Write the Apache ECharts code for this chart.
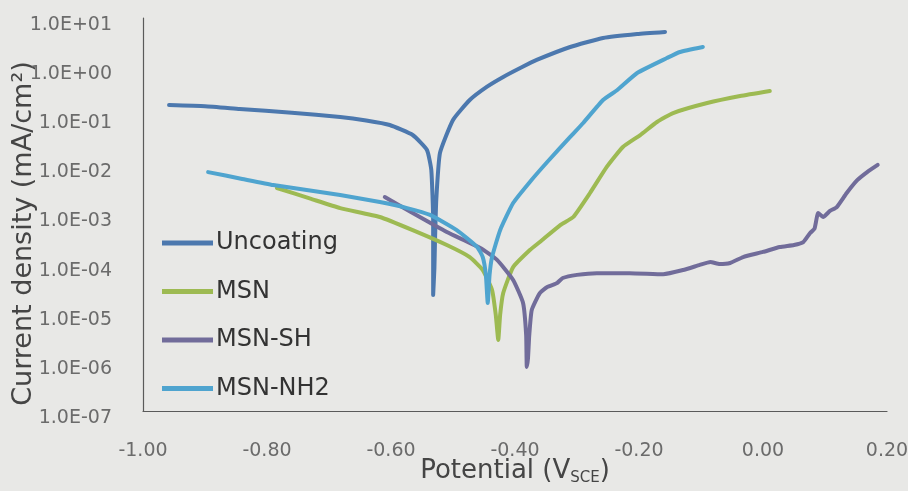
<!DOCTYPE html>
<html>
<head>
<meta charset="utf-8">
<script src="https://cdn.jsdelivr.net/npm/echarts@6/dist/echarts.min.js"></script>
<style>
html,body{margin:0;padding:0;background:#e8e8e6;}
#c{width:908px;height:491px;}
</style>
</head>
<body>
<div id="c"></div>
<script>
// ---- data (potential V vs SCE, current density mA/cm2) ----
const seriesNames = ['Uncoating', 'MSN', 'MSN-SH', 'MSN-NH2'];

const uncoatingV = [-0.958,-0.900,-0.844,-0.760,-0.682,-0.640,-0.602,-0.565,-0.542,-0.535,-0.532,-0.532,-0.530,-0.529,-0.527,-0.521,-0.500,-0.473,-0.445,-0.419,-0.390,-0.365,-0.311,-0.258,-0.203,-0.158];
const uncoatingI = [0.169,0.160,0.141,0.118,0.0966,0.082,0.0664,0.0415,0.0206,0.00805,0.00077,0.000023,0.00008,0.0003,0.00197,0.0179,0.084,0.214,0.40,0.63,0.98,1.40,2.57,3.92,4.72,5.19];

const msnV = [-0.784,-0.730,-0.682,-0.618,-0.565,-0.510,-0.473,-0.452,-0.437,-0.431,-0.427,-0.424,-0.419,-0.403,-0.376,-0.360,-0.327,-0.306,-0.279,-0.252,-0.226,-0.198,-0.171,-0.145,-0.090,-0.037,0.011];
const msnI = [0.00346,0.0021,0.00135,0.00089,0.00048,0.000239,0.000136,0.000074,0.000029,0.000009,0.0000028,0.000009,0.0000252,0.000085,0.000189,0.000275,0.00061,0.00089,0.00274,0.0093,0.0237,0.0415,0.0764,0.1164,0.186,0.258,0.327];

const msnShV = [-0.610,-0.565,-0.510,-0.456,-0.429,-0.403,-0.387,-0.382,-0.381,-0.379,-0.377,-0.373,-0.360,-0.348,-0.332,-0.323,-0.300,-0.268,-0.215,-0.161,-0.129,-0.102,-0.085,-0.070,-0.053,-0.032,0.000,0.027,0.050,0.065,0.076,0.083,0.089,0.097,0.108,0.119,0.135,0.152,0.168,0.185];
const msnShI = [0.00227,0.00107,0.00044,0.000208,0.000119,0.0000465,0.0000158,0.0000035,0.00000079,0.0000012,0.0000035,0.0000114,0.0000252,0.0000334,0.0000403,0.000051,0.000059,0.000064,0.000064,0.000061,0.000074,0.000094,0.000108,0.000098,0.000103,0.000136,0.000173,0.000218,0.000240,0.000275,0.00042,0.00051,0.00107,0.00089,0.00118,0.00142,0.00274,0.0050,0.0073,0.0102];

const msnNh2V = [-0.895,-0.840,-0.790,-0.682,-0.618,-0.574,-0.537,-0.494,-0.461,-0.452,-0.447,-0.444,-0.441,-0.437,-0.424,-0.403,-0.376,-0.348,-0.311,-0.290,-0.258,-0.235,-0.203,-0.155,-0.134,-0.097];
const msnNh2I = [0.0073,0.0053,0.00398,0.00249,0.00179,0.00135,0.00098,0.00048,0.000218,0.000136,0.000059,0.0000158,0.000059,0.000136,0.00048,0.00171,0.0046,0.0117,0.0379,0.073,0.214,0.342,0.759,1.53,2.03,2.57];

const xTicks = {min: -1.0, max: 0.2, interval: 0.2};
const yTicks = {min: 1e-7, max: 10};

const colors = ['#4c78ae', '#9dba52', '#716c9a', '#4fa4cf'];

function zip(a, b) { return a.map((v, i) => [v, b[i]]); }
const dataSets = [zip(uncoatingV, uncoatingI), zip(msnV, msnI), zip(msnShV, msnShI), zip(msnNh2V, msnNh2I)];

function sciLabel(v) {
  const e = Math.round(Math.log10(v));
  const s = e < 0 ? '-' : '+';
  return '1.0E' + s + String(Math.abs(e)).padStart(2, '0');
}

const chart = echarts.init(document.getElementById('c'), null, {renderer: 'canvas'});
chart.setOption({
  backgroundColor: '#e8e8e6',
  animation: false,
  color: colors,
  grid: {left: 143, right: 21, top: 18, bottom: 80, containLabel: false, outerBoundsMode: 'none'},
  legend: {
    orient: 'vertical',
    left: 157,
    top: 226,
    icon: 'rect',
    itemWidth: 51,
    itemHeight: 5,
    itemGap: 24.5,
    data: seriesNames,
    textStyle: {fontFamily: 'DejaVu Sans', fontSize: 24, color: '#333333', lineHeight: 24, padding: [0, 0, 0, -2]}
  },
  xAxis: {
    type: 'value',
    min: xTicks.min,
    max: xTicks.max,
    interval: xTicks.interval,
    name: 'Potential (V{sub|SCE})',
    nameLocation: 'middle',
    nameGap: 46,
    nameMoveOverlap: false,
    nameTextStyle: {
      fontFamily: 'DejaVu Sans', fontSize: 26, color: '#454545',
      rich: {sub: {fontFamily: 'DejaVu Sans', fontSize: 15, color: '#454545', padding: [14, 0, 0, 0]}}
    },
    axisLine: {show: true, onZero: false, lineStyle: {color: '#5a5a5a', width: 1.2}},
    axisTick: {show: false},
    splitLine: {show: false},
    axisLabel: {
      margin: 31,
      fontFamily: 'DejaVu Sans', fontSize: 19, color: '#6b6b6b',
      formatter: v => (Math.abs(v) < 1e-9 ? '0.00' : v.toFixed(2))
    }
  },
  yAxis: {
    type: 'log',
    logBase: 10,
    min: yTicks.min,
    max: yTicks.max,
    splitNumber: 8,
    name: 'Current density (mA/cm²)',
    nameLocation: 'middle',
    nameGap: 106,
    nameMoveOverlap: false,
    nameTextStyle: {fontFamily: 'DejaVu Sans', fontSize: 27, color: '#454545', padding: [0, 38, 0, 0]},
    axisLine: {show: true, onZero: false, lineStyle: {color: '#5a5a5a', width: 1.2}},
    axisTick: {show: false},
    splitLine: {show: false},
    axisLabel: {
      margin: 31,
      verticalAlign: 'top',
      lineHeight: 14,
      fontFamily: 'DejaVu Sans', fontSize: 19, color: '#6b6b6b',
      formatter: sciLabel
    }
  },
  series: seriesNames.map((n, i) => ({
    name: n,
    type: 'line',
    data: dataSets[i],
    showSymbol: false,
    symbol: 'none',
    smooth: 0.15,
    lineStyle: {width: 4, color: colors[i], cap: 'round', join: 'round'},
    itemStyle: {color: colors[i]},
    z: [2, 3, 4, 5][i]
  }))
});
</script>
</body>
</html>
